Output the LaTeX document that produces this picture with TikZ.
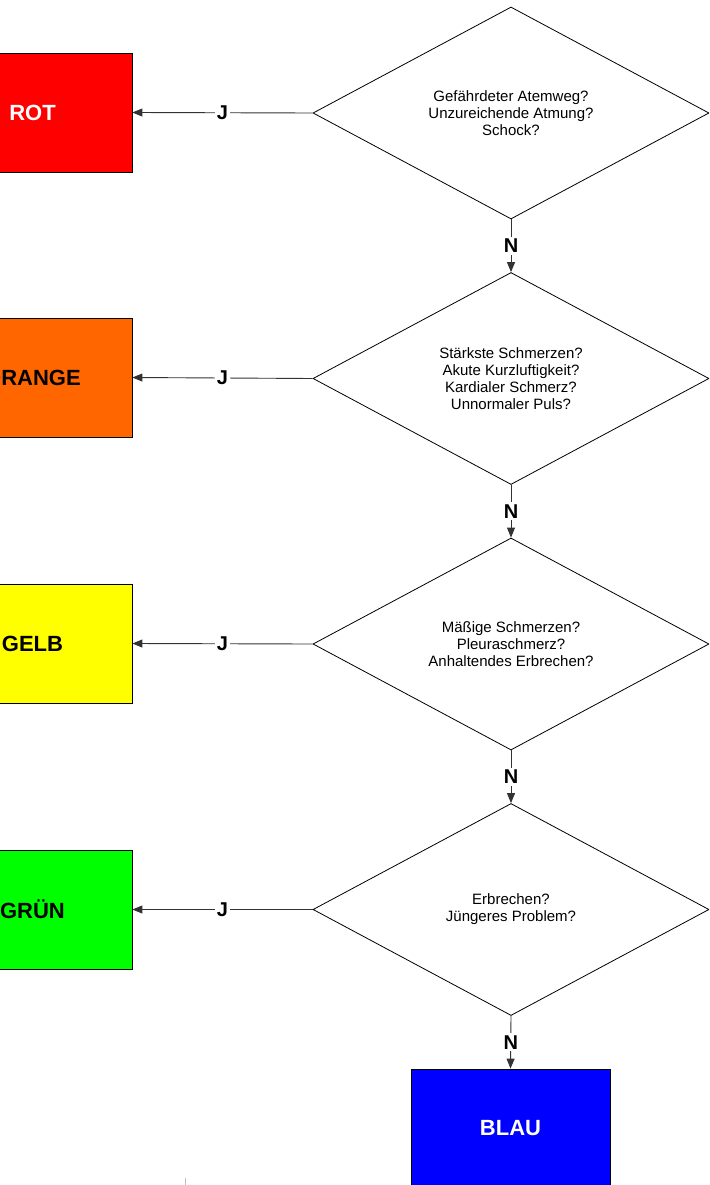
\documentclass[tikz,border=0pt]{standalone}
\usepackage{fontspec}
\setmainfont{Liberation Sans}
\usetikzlibrary{shapes.geometric,arrows.meta}
\definecolor{cRot}{RGB}{255,0,0}
\definecolor{cOrange}{RGB}{255,102,0}
\definecolor{cGelb}{RGB}{255,255,0}
\definecolor{cGruen}{RGB}{0,255,0}
\definecolor{cBlau}{RGB}{0,0,255}
\tikzset{
  question/.style={diamond, draw=black, line width=0.8pt, fill=white, inner sep=0pt,
    minimum width=396pt, minimum height=212pt, align=center,
    font=\fontsize{15}{17}\selectfont},
  result/.style={rectangle, draw=black, line width=0.8pt, minimum width=199pt,
    minimum height=119pt, font=\fontsize{22}{26}\selectfont\bfseries},
  conn/.style={draw=black!80, line width=0.9pt, -{Triangle[length=10pt,width=8pt]}},
  lbl/.style={fill=white, inner sep=2pt, font=\fontsize{20}{22}\selectfont\bfseries, text=black}
}
\begin{document}
\begin{tikzpicture}[x=1pt,y=-1pt]
\useasboundingbox (0,0) rectangle (709,1185);
\clip (0,0) rectangle (709,1185);

\node[question] (d1) at (511,113) {Gefährdeter Atemweg?\\Unzureichende Atmung?\\Schock?};
\node[question] (d2) at (511,378.5) {Stärkste Schmerzen?\\Akute Kurzluftigkeit?\\Kardialer Schmerz?\\Unnormaler Puls?};
\node[question] (d3) at (511,644) {Mäßige Schmerzen?\\Pleuraschmerz?\\Anhaltendes Erbrechen?};
\node[question] (d4) at (511,909.5) {Erbrechen?\\Jüngeres Problem?};

\node[result, fill=cRot, text=white] (rot) at (32.5,112.5) {ROT};
\node[result, fill=cOrange, text=black] (orange) at (32.5,377.5) {ORANGE};
\node[result, fill=cGelb, text=black] (gelb) at (32.5,643.5) {GELB};
\node[result, fill=cGruen, text=black] (gruen) at (32.5,909.5) {GRÜN};
\node[result, fill=cBlau, text=white] (blau) at (510.5,1128.5) {BLAU};

\draw[conn] (d1.west) -- node[lbl] {J} (rot.east);
\draw[conn] (d2.west) -- node[lbl] {J} (orange.east);
\draw[conn] (d3.west) -- node[lbl] {J} (gelb.east);
\draw[conn] (d4.west) -- node[lbl] {J} (gruen.east);

\draw[conn] (d1.south) -- node[lbl] {N} (d2.north);
\draw[conn] (d2.south) -- node[lbl] {N} (d3.north);
\draw[conn] (d3.south) -- node[lbl] {N} (d4.north);
\draw[conn] (d4.south) -- node[lbl] {N} (blau.north);

\coordinate (tickA) at (185,1178);
\coordinate (tickB) at (185,1185);
\draw[black!25, line width=0.8pt] (tickA) -- (tickB);
\end{tikzpicture}
\end{document}
